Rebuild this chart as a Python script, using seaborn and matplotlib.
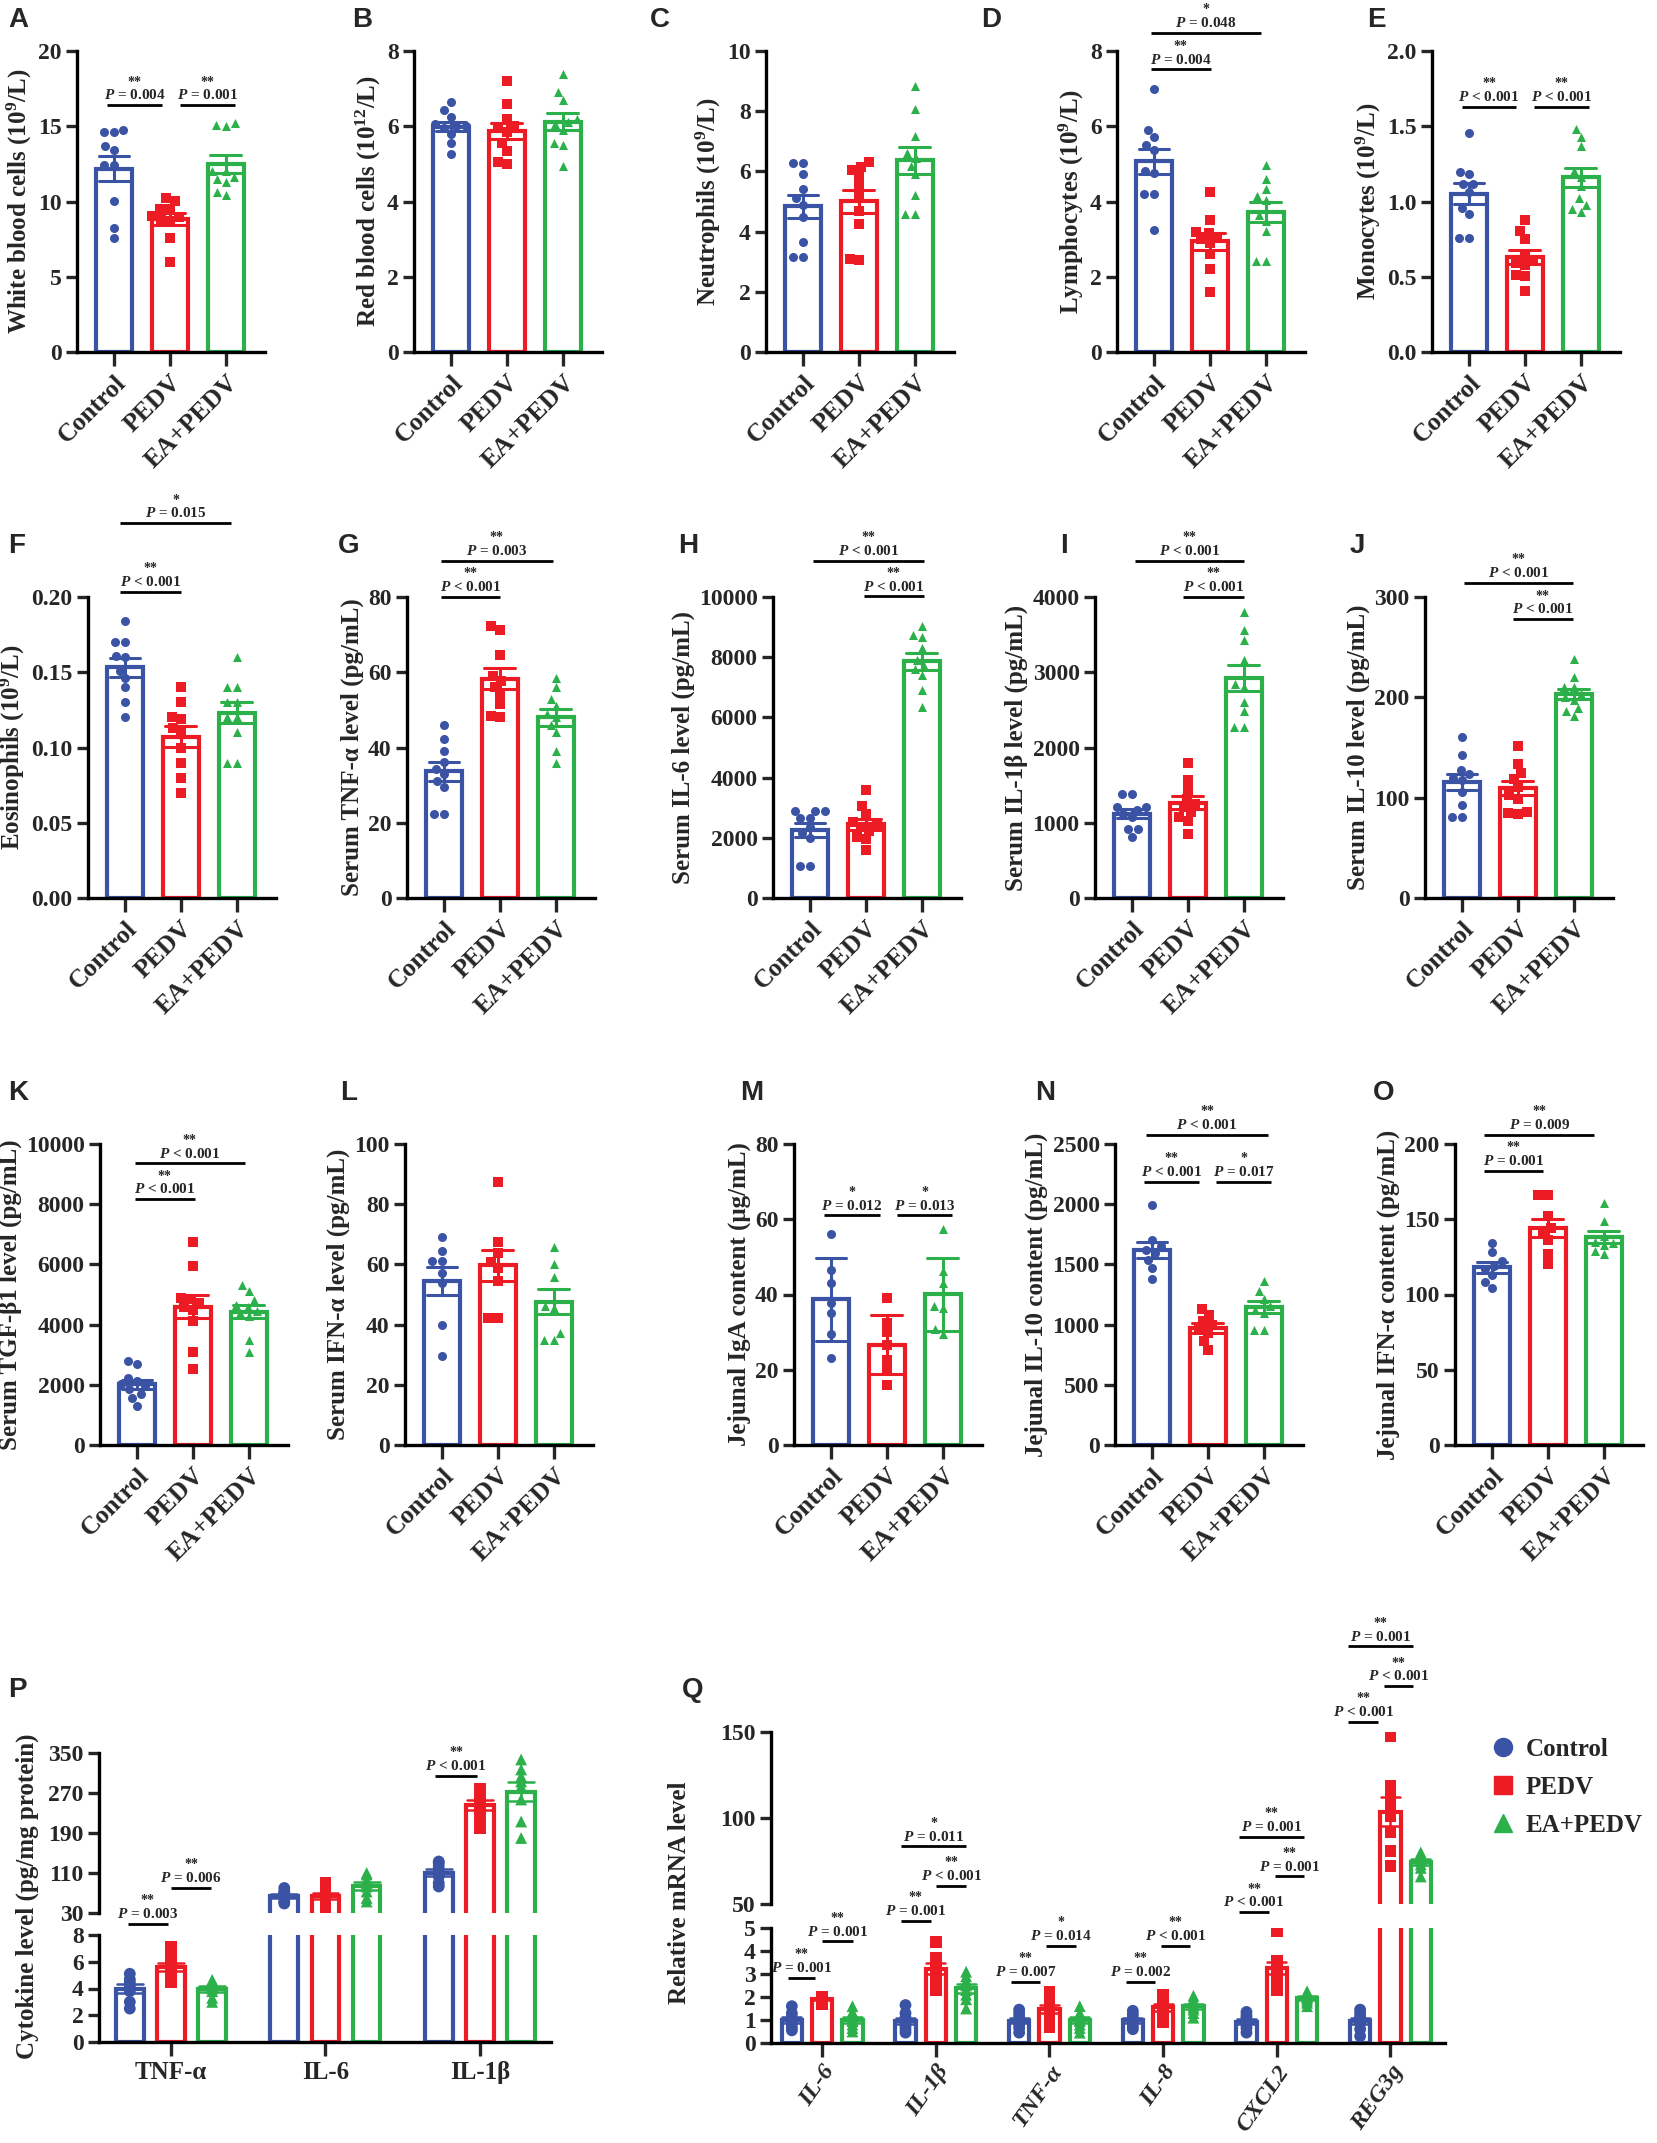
import numpy as np
import pandas as pd
import seaborn as sns
import matplotlib.pyplot as plt
from matplotlib.lines import Line2D
from matplotlib.ticker import FormatStrFormatter

W, H = 1657, 2143

groups = ['Control', 'PEDV', 'EA+PEDV']
colors = ['#3A53A4', '#ED1C24', '#2BB04A']
markers = ['o', 's', '^']

# ---- blood / serum / jejunum data (one list per group) ----
wbc_control = [14.74, 14.65, 14.65, 13.66, 13.44, 12.44, 12.44, 10.01, 8.24, 7.58]
wbc_pedv = [10.23, 10.01, 9.50, 9.50, 9.06, 8.95, 8.84, 8.73, 7.58, 5.97]
wbc_ea = [15.2, 15.07, 15.03, 12.0, 12.0, 11.6, 11.5, 11.3, 10.6, 10.4]

rbc_control = [6.65, 6.42, 6.25, 6.05, 6.0, 6.0, 5.95, 5.8, 5.55, 5.25]
rbc_pedv = [7.2, 6.6, 6.2, 6.0, 5.95, 5.85, 5.55, 5.35, 5.05, 5.0]
rbc_ea = [7.4, 6.9, 6.7, 6.2, 6.1, 6.05, 5.9, 5.55, 5.5, 4.95]

neu_control = [6.29, 6.29, 5.92, 5.4, 5.1, 4.9, 4.5, 3.66, 3.16, 3.16]
neu_pedv = [6.3, 6.15, 6.05, 5.85, 5.5, 5.2, 4.7, 4.25, 3.1, 3.05]
neu_ea = [8.84, 8.06, 7.17, 6.6, 6.45, 6.18, 5.9, 5.23, 4.6, 4.6]

lym_control = [6.98, 5.89, 5.71, 5.5, 5.36, 4.81, 4.76, 4.2, 4.2, 3.25]
lym_pedv = [4.26, 3.5, 3.2, 3.15, 3.05, 3.0, 2.9, 2.6, 2.2, 1.6]
lym_ea = [4.96, 4.6, 4.32, 4.14, 4.03, 3.65, 3.48, 3.21, 2.41, 2.41]

mono_control = [1.457, 1.197, 1.186, 1.113, 1.117, 1.064, 0.958, 0.918, 0.758, 0.758]
mono_pedv = [0.88, 0.807, 0.754, 0.647, 0.614, 0.592, 0.58, 0.514, 0.503, 0.408]
mono_ea = [1.479, 1.428, 1.368, 1.2, 1.16, 1.1, 1.02, 0.98, 0.95, 0.93]

eos_control = [0.184, 0.170, 0.170, 0.161, 0.160, 0.151, 0.146, 0.140, 0.130, 0.120]
eos_pedv = [0.14, 0.13, 0.12, 0.119, 0.113, 0.11, 0.10, 0.09, 0.08, 0.07]
eos_ea = [0.16, 0.14, 0.14, 0.13, 0.13, 0.12, 0.12, 0.11, 0.09, 0.09]

tnf_control = [46.0, 42.3, 39.2, 36.1, 34.3, 33.0, 31.2, 29.5, 22.4, 22.4]
tnf_pedv = [72.2, 71.3, 64.5, 59.0, 57.8, 56.0, 54.0, 51.6, 48.5, 48.0]
tnf_ea = [58.5, 56.0, 53.0, 51.0, 49.0, 48.0, 46.0, 44.0, 39.0, 36.0]

il6_control = [2900, 2900, 2900, 2650, 2650, 2350, 2150, 2000, 1075, 1050]
il6_pedv = [3592, 3071, 2794, 2517, 2406, 2350, 2240, 2018, 1962, 1596]
il6_ea = [9024, 8725, 8670, 8315, 7900, 7700, 7600, 7400, 6900, 6340]

il1b_control = [1384, 1384, 1206, 1206, 1171, 1117, 1073, 918, 918, 807]
il1b_pedv = [1791, 1570, 1437, 1317, 1251, 1206, 1140, 1073, 1029, 851]
il1b_ea = [3800, 3565, 3432, 3157, 2800, 2847, 2603, 2483, 2271, 2271]

il10_control = [160, 143, 128, 124, 120, 118, 106, 93, 81, 81]
il10_pedv = [151, 134, 125, 119, 111, 103, 99, 86, 85, 84]
il10_ea = [238, 220, 210, 210, 203, 200, 197, 189, 186, 181]

tgf_control = [2800, 2700, 2230, 2120, 2010, 1950, 1850, 1680, 1570, 1310]
tgf_pedv = [6740, 5956, 4884, 4851, 4718, 4600, 4497, 4110, 3094, 2530]
tgf_ea = [5326, 5105, 4829, 4663, 4586, 4442, 4387, 4276, 3503, 3094]

ifn_control = [69.0, 64.6, 61.1, 61.1, 57.2, 53.9, 40.0, 29.5]
ifn_pedv = [87.3, 67.5, 63.8, 60.8, 58.8, 54.4, 42.3, 42.3]
ifn_ea = [65.7, 60.2, 55.8, 46.1, 45.5, 37.3, 35.0, 35.0]

iga_control = [56.1, 46.6, 43.0, 37.8, 35.1, 29.4, 23.2]
iga_pedv = [39.0, 32.5, 30.0, 26.7, 22.7, 20.0, 16.0]
iga_ea = [57.4, 46.2, 43.0, 37.0, 36.5, 30.7, 29.4]

jil10_control = [1994, 1704, 1649, 1622, 1594, 1539, 1470, 1378]
jil10_pedv = [1130, 1083, 1028, 1000, 959, 931, 862, 793]
jil10_ea = [1359, 1276, 1213, 1152, 1124, 1097, 959, 959]

jifn_control = [134, 128, 122, 119, 117, 113, 108, 104]
jifn_pedv = [166, 166, 152, 144, 141, 136, 127, 120]
jifn_ea = [161, 149, 139, 135, 134, 133, 129, 127]

# ---- P: jejunal cytokines ----
cytokines = ['TNF-α', 'IL-6', 'IL-1β']
p_tnf_control = [5.1, 4.7, 4.5, 4.3, 4.1, 3.8, 3.0, 2.5]
p_tnf_pedv = [7.1, 6.3, 6.0, 5.6, 5.3, 5.1, 4.9, 4.5]
p_tnf_ea = [4.65, 4.5, 4.4, 4.15, 4.0, 3.8, 3.3, 3.0]
p_il6_control = [80, 73, 70, 67, 63, 60, 53, 49]
p_il6_pedv = [90, 80, 73, 67, 60, 53, 43, 40]
p_il6_ea = [110, 107, 97, 90, 83, 73, 60, 53]
p_il1b_control = [133, 130, 123, 113, 110, 103, 90, 83]
p_il1b_pedv = [278, 275, 268, 255, 245, 232, 215, 200]
p_il1b_ea = [337, 317, 303, 293, 283, 257, 213, 180]

# ---- Q: relative mRNA ----
genes = ['IL-6', 'IL-1β', 'TNF-α', 'IL-8', 'CXCL2', 'REG3g']
q_il6_control = [1.6, 1.3, 1.15, 1.0, 0.95, 0.8, 0.65, 0.55]
q_il6_pedv = [2.0, 1.98, 1.95, 1.92, 1.9, 1.88, 1.85, 1.7]
q_il6_ea = [1.6, 1.35, 1.15, 1.0, 0.95, 0.8, 0.65, 0.5]
q_il1b_control = [1.65, 1.3, 1.1, 0.95, 0.87, 0.72, 0.58, 0.45]
q_il1b_pedv = [4.4, 3.7, 3.5, 3.3, 3.1, 2.9, 2.6, 2.3]
q_il1b_ea = [3.1, 2.9, 2.7, 2.5, 2.3, 2.1, 1.9, 1.5]
q_tnf_control = [1.45, 1.3, 1.15, 1.0, 0.95, 0.8, 0.65, 0.45]
q_tnf_pedv = [2.2, 2.0, 1.8, 1.6, 1.4, 1.2, 0.9, 0.7]
q_tnf_ea = [1.6, 1.3, 1.1, 1.0, 0.95, 0.8, 0.65, 0.45]
q_il8_control = [1.4, 1.25, 1.1, 1.0, 0.95, 0.85, 0.7, 0.6]
q_il8_pedv = [2.1, 2.0, 1.8, 1.65, 1.5, 1.3, 1.1, 0.9]
q_il8_ea = [2.05, 1.9, 1.75, 1.65, 1.55, 1.45, 1.3, 1.1]
q_cxcl2_control = [1.35, 1.2, 1.1, 1.0, 0.9, 0.8, 0.65, 0.45]
q_cxcl2_pedv = [4.85, 3.55, 3.45, 3.35, 3.1, 2.9, 2.6, 2.3]
q_cxcl2_ea = [2.25, 2.15, 2.1, 2.0, 1.95, 1.85, 1.75, 1.6]
q_reg3g_control = [1.45, 1.3, 1.15, 1.1, 1.0, 0.85, 0.6, 0.3]
q_reg3g_pedv = [147.5, 118.5, 111.5, 106, 101, 92, 81, 72]
q_reg3g_ea = [80, 78, 77, 76, 75, 73, 71, 66]

sns.set_theme(style='ticks')
plt.rcParams['font.family'] = ['Liberation Serif', 'DejaVu Serif']
plt.rcParams['font.weight'] = 'bold'
plt.rcParams['axes.labelweight'] = 'bold'
plt.rcParams['mathtext.fontset'] = 'custom'
plt.rcParams['mathtext.rm'] = 'Liberation Serif:bold'
plt.rcParams['mathtext.it'] = 'Liberation Serif:italic:bold'
plt.rcParams['mathtext.bf'] = 'Liberation Serif:bold'
plt.rcParams['axes.linewidth'] = 2.4
plt.rcParams['axes.edgecolor'] = 'black'

fig = plt.figure(figsize=(W / 100, H / 100), dpi=100)


def px_axes(left, top, width, height):
    return fig.add_axes([left / W, 1 - (top + height) / H, width / W, height / H])


def sig(ax, x0, x1, y, op, pval, stars):
    ax.plot([x0, x1], [y, y], color='black', lw=2, clip_on=False, solid_capstyle='butt')
    xm = (x0 + x1) / 2
    ax.annotate(r'$P$ ' + op + ' ' + pval, (xm, y), xytext=(0, 2), textcoords='offset points',
                ha='center', va='bottom', fontsize=11, annotation_clip=False)
    ax.annotate(stars, (xm, y), xytext=(0, 12), textcoords='offset points',
                ha='center', va='bottom', fontsize=10, annotation_clip=False)


def letter(x, y, s):
    fig.text(x / W, 1 - y / H, s, fontsize=20, fontweight='bold', family='Liberation Sans',
             ha='left', va='top')


def group_panel(left, top, ctrl, pedv, ea, yticks, fmt, ylabel, sigs, err='se'):
    ax = px_axes(left, top, 188, 301)
    df = pd.DataFrame({'group': np.repeat(groups, [len(ctrl), len(pedv), len(ea)]),
                       'value': np.concatenate([ctrl, pedv, ea])})
    sns.barplot(data=df, x='group', y='value', hue='group', order=groups, hue_order=groups,
                palette=colors, fill=False, errorbar=err, capsize=0.55, width=0.64,
                linewidth=3, err_kws={'linewidth': 2.2}, legend=False, ax=ax)
    err_lines = list(ax.lines)
    for g, m, c in zip(groups, markers, colors):
        sns.swarmplot(data=df[df.group == g], x='group', y='value', order=groups,
                      color=c, marker=m, size=6.5, ax=ax, warn_thresh=1)
    for ln in err_lines:
        ln.set_zorder(5)
    ax.set_xlim(-0.66, 2.7)
    ax.set_ylim(yticks[0], yticks[-1])
    ax.set_yticks(yticks)
    ax.yaxis.set_major_formatter(FormatStrFormatter(fmt))
    ax.set_xlabel('')
    ax.set_ylabel(ylabel, fontsize=18, labelpad=3)
    ax.tick_params(axis='y', width=2.4, length=8, labelsize=17, pad=3)
    ax.tick_params(axis='x', width=2.4, length=10, labelsize=18.5)
    ax.set_xticks(range(3))
    ax.set_xticklabels(groups, rotation=45, ha='right', rotation_mode='anchor')
    sns.despine(ax=ax)
    for s in sigs:
        sig(ax, *s)
    return ax


# row 1
group_panel(77, 51, wbc_control, wbc_pedv, wbc_ea, [0, 5, 10, 15, 20], '%d',
            r'White blood cells (10$^{9}$/L)',
            [(-0.12, 0.86, 16.4, '=', '0.004', '**'), (1.18, 2.16, 16.4, '=', '0.001', '**')])
group_panel(414, 51, rbc_control, rbc_pedv, rbc_ea, [0, 2, 4, 6, 8], '%d',
            r'Red blood cells (10$^{12}$/L)', [])
group_panel(766, 51, neu_control, neu_pedv, neu_ea, [0, 2, 4, 6, 8, 10], '%d',
            r'Neutrophils (10$^{9}$/L)', [])
group_panel(1117, 51, lym_control, lym_pedv, lym_ea, [0, 2, 4, 6, 8], '%d',
            r'Lymphocytes (10$^{9}$/L)',
            [(-0.06, 1.02, 7.51, '=', '0.004', '**'), (-0.06, 1.91, 8.49, '=', '0.048', '*')])
group_panel(1432, 51, mono_control, mono_pedv, mono_ea, [0, 0.5, 1.0, 1.5, 2.0], '%.1f',
            r'Monocytes (10$^{9}$/L)',
            [(-0.13, 0.85, 1.63, '<', '0.001', '**'), (1.16, 2.15, 1.63, '<', '0.001', '**')])

# row 2
group_panel(88, 597, eos_control, eos_pedv, eos_ea, [0, 0.05, 0.10, 0.15, 0.20], '%.2f',
            r'Eosinophils (10$^{9}$/L)',
            [(-0.09, 1.0, 0.2033, '<', '0.001', '**'), (-0.09, 1.90, 0.249, '=', '0.015', '*')])
group_panel(407, 597, tnf_control, tnf_pedv, tnf_ea, [0, 20, 40, 60, 80], '%d',
            'Serum TNF-α level (pg/mL)',
            [(-0.06, 1.01, 80.0, '<', '0.001', '**'), (-0.06, 1.95, 89.6, '=', '0.003', '**')])
group_panel(773, 597, il6_control, il6_pedv, il6_ea, [0, 2000, 4000, 6000, 8000, 10000], '%d',
            'Serum IL-6 level (pg/mL)',
            [(0.96, 2.03, 10022, '<', '0.001', '**'), (0.06, 2.03, 11197, '<', '0.001', '**')])
group_panel(1095, 597, il1b_control, il1b_pedv, il1b_ea, [0, 1000, 2000, 3000, 4000], '%d',
            'Serum IL-1β level (pg/mL)',
            [(0.92, 2.0, 4000, '<', '0.001', '**'), (0.05, 2.0, 4479, '<', '0.001', '**')])
group_panel(1425, 597, il10_control, il10_pedv, il10_ea, [0, 100, 200, 300], '%d',
            'Serum IL-10 level (pg/mL)',
            [(0.91, 1.98, 277.8, '<', '0.001', '**'), (0.03, 1.98, 313.9, '<', '0.001', '**')])

# row 3
group_panel(100, 1144, tgf_control, tgf_pedv, tgf_ea, [0, 2000, 4000, 6000, 8000, 10000], '%d',
            'Serum TGF-β1 level (pg/mL)',
            [(-0.04, 1.04, 8166, '<', '0.001', '**'), (-0.04, 1.93, 9359, '<', '0.001', '**')])
group_panel(405, 1144, ifn_control, ifn_pedv, ifn_ea, [0, 20, 40, 60, 80, 100], '%d',
            'Serum IFN-α level (pg/mL)', [])
group_panel(794, 1144, iga_control, iga_pedv, iga_ea, [0, 20, 40, 60, 80], '%d',
            'Jejunal IgA content (μg/mL)',
            [(-0.12, 0.875, 61.0, '=', '0.012', '*'), (1.18, 2.17, 61.0, '=', '0.013', '*')],
            err='sd')
group_panel(1115, 1144, jil10_control, jil10_pedv, jil10_ea, [0, 500, 1000, 1500, 2000, 2500], '%d',
            'Jejunal IL-10 content (pg/mL)',
            [(-0.15, 0.84, 2188, '<', '0.001', '**'), (1.15, 2.13, 2188, '=', '0.017', '*'),
             (-0.1, 2.07, 2575, '<', '0.001', '**')])
group_panel(1455, 1144, jifn_control, jifn_pedv, jifn_ea, [0, 50, 100, 150, 200], '%d',
            'Jejunal IFN-α content (pg/mL)',
            [(-0.14, 0.92, 182.3, '=', '0.001', '**'), (-0.14, 1.83, 206, '=', '0.009', '**')])


# broken-axis grouped panels
def broken_panel(left, width, top_up, h_up, top_lo, h_lo, cats, data, lims_up, ticks_up,
                 ticks_lo, xlim):
    rows = []
    for cat, triple in zip(cats, data):
        for g, vals in zip(groups, triple):
            for v in vals:
                rows.append((cat, g, v))
    df = pd.DataFrame(rows, columns=['cat', 'group', 'value'])
    ax_up = px_axes(left, top_up, width, h_up)
    ax_lo = px_axes(left, top_lo, width, h_lo)
    for ax in (ax_up, ax_lo):
        sns.barplot(data=df, x='cat', y='value', hue='group', order=cats, hue_order=groups,
                    palette=colors, fill=False, errorbar='se', capsize=0.5, width=0.8, gap=0.33,
                    linewidth=3, err_kws={'linewidth': 1.8}, legend=False, ax=ax)
        err_lines = list(ax.lines)
        for g, m in zip(groups, markers):
            sns.stripplot(data=df[df.group == g], x='cat', y='value', hue='group', order=cats,
                          hue_order=groups, palette=colors, dodge=True, jitter=False, marker=m,
                          size=8.5, legend=False, ax=ax)
        for ln in err_lines:
            ln.set_zorder(5)
        ax.set_xlim(*xlim)
        ax.set_xlabel('')
        ax.set_ylabel('')
        ax.tick_params(axis='y', width=2.4, length=8, labelsize=17, pad=3)
        ax.tick_params(axis='x', width=2.4, length=10, labelsize=18)
    ax_up.set_ylim(*lims_up)
    ax_up.set_yticks(ticks_up)
    ax_lo.set_ylim(ticks_lo[0], ticks_lo[-1])
    ax_lo.set_yticks(ticks_lo)
    ax_up.set_xticks([])
    sns.despine(ax=ax_up, bottom=True)
    sns.despine(ax=ax_lo)
    ax_lo.set_xticks(range(len(cats)))
    return ax_up, ax_lo


p_up, p_lo = broken_panel(
    99, 452, 1753, 160, 1935, 107, cytokines,
    [(p_tnf_control, p_tnf_pedv, p_tnf_ea), (p_il6_control, p_il6_pedv, p_il6_ea),
     (p_il1b_control, p_il1b_pedv, p_il1b_ea)],
    (30, 350), [30, 110, 190, 270, 350], [0, 2, 4, 6, 8], (-0.466, 2.46))
p_lo.set_xticklabels(cytokines, fontsize=18)
sig(p_up, -0.28, -0.02, 8.7, '=', '0.003', '**')
sig(p_up, 0.0, 0.26, 80, '=', '0.006', '**')
sig(p_up, 1.71, 1.98, 305, '<', '0.001', '**')
fig.text(27 / W, 1 - 1896 / H, 'Cytokine level (pg/mg protein)', rotation=90, fontsize=18,
         fontweight='bold', ha='center', va='center')

q_up, q_lo = broken_panel(
    771, 674, 1732, 172, 1928, 115, genes,
    [(q_il6_control, q_il6_pedv, q_il6_ea), (q_il1b_control, q_il1b_pedv, q_il1b_ea),
     (q_tnf_control, q_tnf_pedv, q_tnf_ea), (q_il8_control, q_il8_pedv, q_il8_ea),
     (q_cxcl2_control, q_cxcl2_pedv, q_cxcl2_ea), (q_reg3g_control, q_reg3g_pedv, q_reg3g_ea)],
    (50, 150), [50, 100, 150], [0, 1, 2, 3, 4, 5], (-0.45, 5.48))
q_lo.set_xticklabels(genes, rotation=55, ha='right', rotation_mode='anchor', fontsize=17.5,
                     fontstyle='italic')
for s in [(-0.30, -0.06, 2.83, '=', '0.001', '**'), (0.0, 0.27, 4.42, '=', '0.001', '**'),
          (0.69, 0.955, 5.32, '=', '0.001', '**'),
          (1.66, 1.92, 2.65, '=', '0.007', '**'), (1.97, 2.23, 4.23, '=', '0.014', '*'),
          (2.67, 2.93, 2.65, '=', '0.002', '**'), (2.98, 3.24, 4.23, '<', '0.001', '**')]:
    sig(q_lo, *s)
for s in [(1.0, 1.27, 60.7, '<', '0.001', '**'), (0.69, 1.27, 83.5, '=', '0.011', '*'),
          (3.67, 3.93, 45.2, '<', '0.001', '**'), (3.98, 4.24, 66.1, '=', '0.001', '**'),
          (3.67, 4.24, 89.0, '=', '0.001', '**'),
          (4.63, 4.89, 155.8, '<', '0.001', '**'), (4.94, 5.2, 176.6, '<', '0.001', '**'),
          (4.63, 5.2, 199.8, '=', '0.001', '**')]:
    sig(q_up, *s)
fig.text(679 / W, 1 - 1893 / H, 'Relative mRNA level', rotation=90, fontsize=18,
         fontweight='bold', ha='center', va='center')

handles = [Line2D([], [], marker=m, color=c, ls='', ms=13) for m, c in zip(markers, colors)]
fig.legend(handles=handles, labels=groups, loc='center left',
           bbox_to_anchor=(1468 / W, 1 - 1787 / H), frameon=False, fontsize=18,
           handletextpad=0.4, labelspacing=0.6, handlelength=1.0)

# panel letters
for x, y, s in [(8, 7, 'A'), (352, 7, 'B'), (650, 7, 'C'), (981, 7, 'D'), (1367, 7, 'E'),
                (8, 533, 'F'), (338, 533, 'G'), (678, 533, 'H'), (1060, 533, 'I'), (1350, 533, 'J'),
                (8, 1080, 'K'), (340, 1080, 'L'), (740, 1080, 'M'), (1035, 1080, 'N'),
                (1373, 1080, 'O'), (8, 1677, 'P'), (682, 1677, 'Q')]:
    letter(x, y, s)

fig.savefig('out.png', dpi=100)
